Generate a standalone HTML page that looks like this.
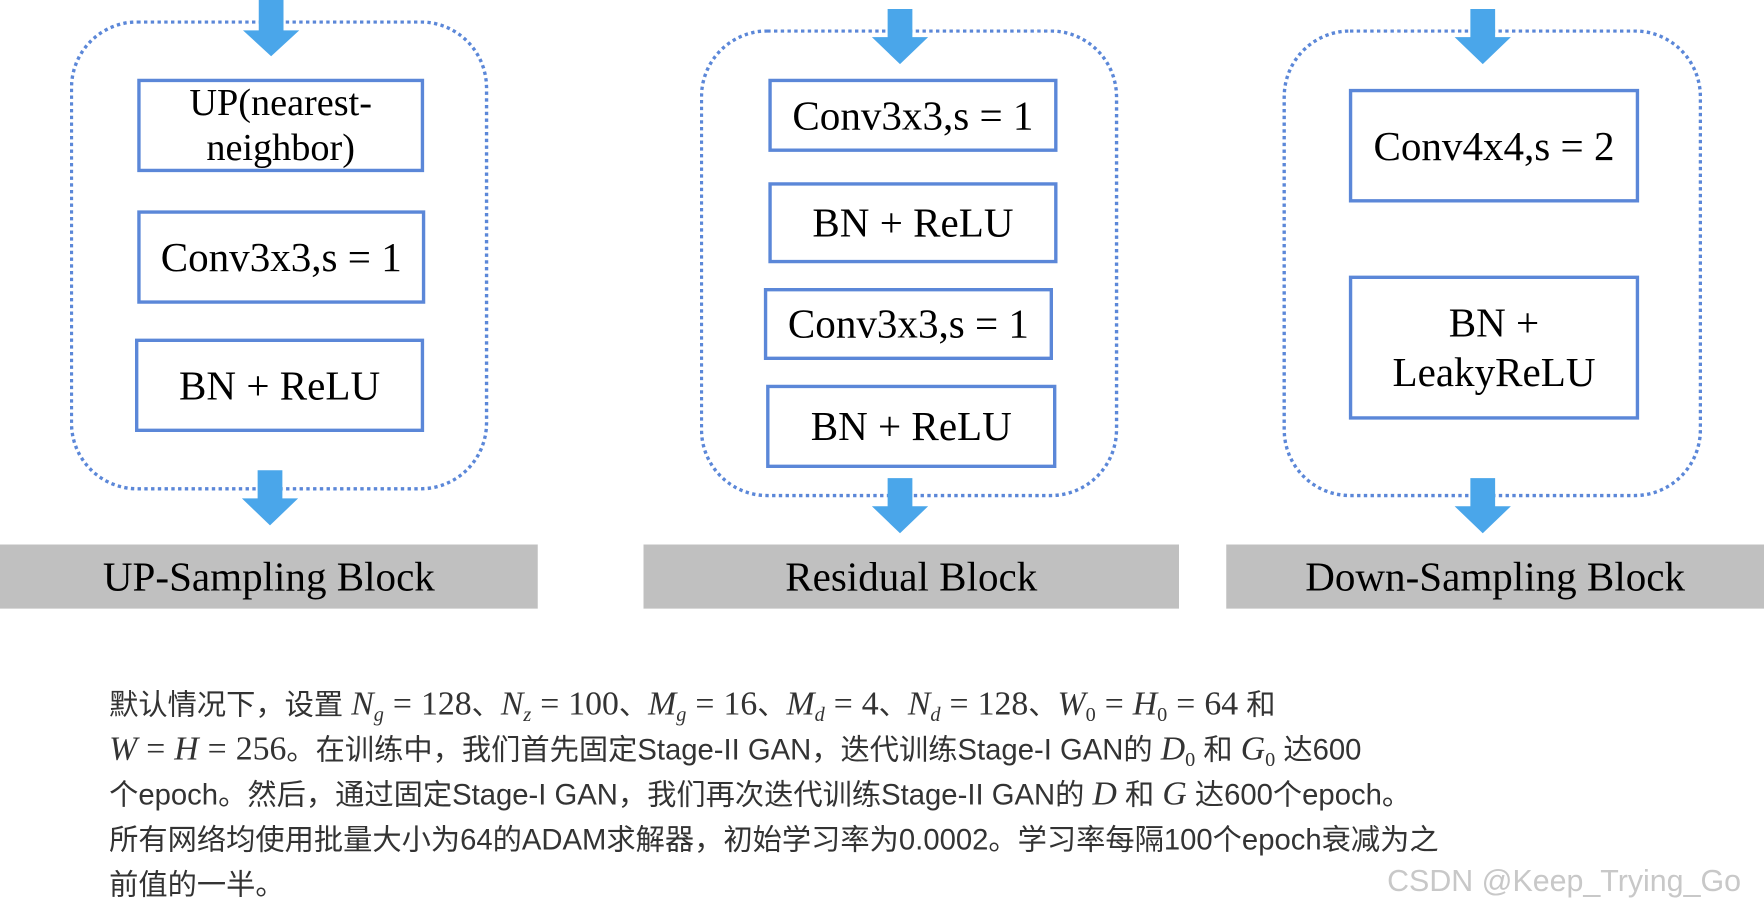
<!DOCTYPE html>
<html><head><meta charset="utf-8"><style>
html,body{margin:0;padding:0;background:#fff;overflow:hidden}
#w{position:absolute;left:0;top:0;width:1568px;height:811px;transform:scale(1.125);transform-origin:0 0}
.c{position:absolute;border:3px dotted #5b87d8;border-radius:60px;box-sizing:border-box}
.b{position:absolute;border:3px solid #5b87d8;box-sizing:border-box;display:flex;align-items:center;justify-content:center;text-align:center;font-family:"Liberation Serif",serif;font-size:36.5px;line-height:38px;color:#000;background:#fff;white-space:nowrap}
.l{position:absolute;background:#c0c0c0;top:484px;height:57px;display:flex;align-items:center;justify-content:center;font-family:"Liberation Serif",serif;font-size:36.5px;color:#000}
.p{position:absolute;left:97px;top:606px;width:1300px;font-family:"Liberation Sans","Noto Sans CJK SC",sans-serif;font-size:26px;line-height:40px;color:#333;white-space:nowrap}
.m{font-family:"Liberation Serif",serif;font-size:30px;line-height:0}
.m i{font-style:italic}
.m sub{font-size:18px;line-height:0;vertical-align:-6px}
.e{margin:0 8px}
svg{position:absolute;left:0;top:0}
</style></head><body><div id="w">
<div class="c" style="left:62px;top:18px;width:372px;height:418px"></div>
<div class="c" style="left:622px;top:26px;width:372px;height:416px"></div>
<div class="c" style="left:1140px;top:26px;width:373px;height:416px"></div>
<svg width="1568" height="811">
<g fill="#4aa6ea">
<polygon points="230,0 252,0 252,27 266,27 241,50 216,27 230,27"/>
<polygon points="229,418 251,418 251,443 265,443 240,467 215,443 229,443"/>
<polygon points="789,8 811,8 811,33 825,33 800,57 775,33 789,33"/>
<polygon points="789,425 811,425 811,450 825,450 800,474 775,450 789,450"/>
<polygon points="1307,8 1329,8 1329,33 1343,33 1318,57 1293,33 1307,33"/>
<polygon points="1307,425 1329,425 1329,450 1343,450 1318,474 1293,450 1307,450"/>
</g></svg>
<div class="b" style="left:122px;top:70px;width:255px;height:83px;line-height:40px;font-size:34px">UP(nearest-<br>neighbor)</div>
<div class="b" style="left:122px;top:187px;width:256px;height:83px">Conv3x3,s = 1</div>
<div class="b" style="left:120px;top:301px;width:257px;height:83px">BN + ReLU</div>
<div class="b" style="left:683px;top:70px;width:257px;height:65px">Conv3x3,s = 1</div>
<div class="b" style="left:683px;top:162px;width:257px;height:72px">BN + ReLU</div>
<div class="b" style="left:679px;top:256px;width:257px;height:64px">Conv3x3,s = 1</div>
<div class="b" style="left:681px;top:342px;width:258px;height:74px">BN + ReLU</div>
<div class="b" style="left:1199px;top:79px;width:258px;height:101px">Conv4x4,s = 2</div>
<div class="b" style="left:1199px;top:245px;width:258px;height:128px;line-height:44px">BN +<br>LeakyReLU</div>
<div class="l" style="left:0;width:478px">UP-Sampling Block</div>
<div class="l" style="left:572px;width:476px">Residual Block</div>
<div class="l" style="left:1090px;width:478px">Down-Sampling Block</div>
<div class="p">默认情况下，设置 <span class="m"><i>N<sub>g</sub></i><span class="e">=</span>128</span>、<span class="m"><i>N<sub>z</sub></i><span class="e">=</span>100</span>、<span class="m"><i>M<sub>g</sub></i><span class="e">=</span>16</span>、<span class="m"><i>M<sub>d</sub></i><span class="e">=</span>4</span>、<span class="m"><i>N<sub>d</sub></i><span class="e">=</span>128</span>、<span class="m"><i>W</i><sub>0</sub><span class="e">=</span><i>H</i><sub>0</sub><span class="e">=</span>64</span> 和<br><span class="m"><i>W</i><span class="e">=</span><i>H</i><span class="e">=</span>256</span>。在训练中，我们首先固定Stage-II GAN，迭代训练Stage-I GAN的 <span class="m"><i>D</i><sub>0</sub></span> 和 <span class="m"><i>G</i><sub>0</sub></span> 达600<br>个epoch。然后，通过固定Stage-I GAN，我们再次迭代训练Stage-II GAN的 <span class="m"><i>D</i></span> 和 <span class="m"><i>G</i></span> 达600个epoch。<br>所有网络均使用批量大小为64的ADAM求解器，初始学习率为0.0002。学习率每隔100个epoch衰减为之<br>前值的一半。</div>
<div style="position:absolute;left:1233px;top:768px;font-family:'Liberation Sans',sans-serif;font-size:27px;color:#c8c8c8;white-space:nowrap">CSDN @Keep_Trying_Go</div>
</div></body></html>
